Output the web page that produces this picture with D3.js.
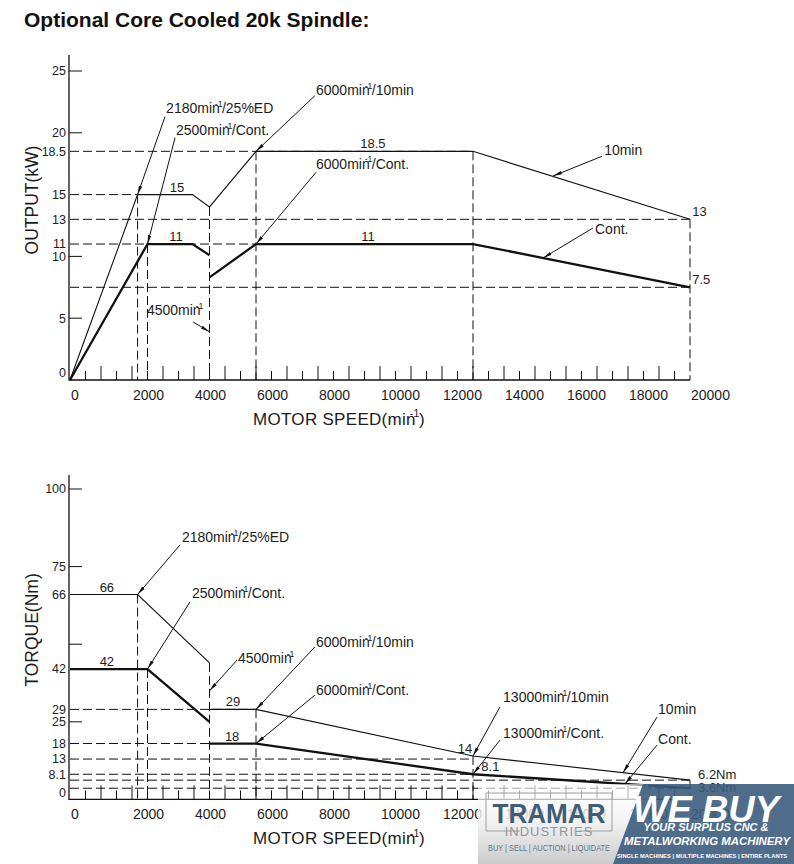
<!DOCTYPE html>
<html><head><meta charset="utf-8">
<script src="https://cdn.jsdelivr.net/npm/d3@7"></script>
<style>
html,body{margin:0;padding:0;background:#fff;}
svg{display:block;}
text{font-family:"Liberation Sans",Arial,sans-serif;fill:#1c1c1c;}
</style></head><body>
<svg id="c" width="794" height="864"></svg>
<script>
// ---------- shared x axis ----------
const xTickLabels = [0, 2000, 4000, 6000, 8000, 10000, 12000, 14000, 16000, 18000, 20000];
const xTickMarks = d3.range(500, 20000, 500);

// ---------- OUTPUT (kW) chart ----------
const pwr10Speed = [0, 2180, 3950, 4500, 6000, 13000, 20000];
const pwr10Value = [0, 15, 15, 14, 18.5, 18.5, 13];
const pwrContSpeed = [0, 2500, 3950, 4500, 4500, 4500, 6000, 13000, 20000];
const pwrContValue = [0, 11, 11, 10.1, null, 8.3, 11, 11, 7.5];

const pwrGuideVSpeed = [2180, 2500, 4500, 6000, 13000, 20000];
const pwrGuideVTop = [15, 11, 14, 18.5, 18.5, 13];
const pwrGuideHValue = [18.5, 15, 13, 11, 7.5];
const pwrGuideHEnd = [13000, 2180, 20000, 6000, 20000];

const pwrTickLabels = [0, 5, 10, 11, 13, 15, 18.5, 20, 25];
const pwrTickMarks = [5, 10, 20, 25];

const pwrValText = ["15", "11", "18.5", "11", "13", "7.5"];
const pwrValSpeed = [3450, 3420, 9770, 9610, 20070, 20070];
const pwrValAt = [15, 11, 18.5, 11, 13, 7.5];

const pwrNoteText = ["2180min-1/25%ED", "2500min-1/Cont.", "6000min-1/10min", "6000min-1/Cont.", "10min", "Cont.", "4500min-1"];
const pwrNoteTipSpeed = [2180, 2500, 6000, 6000, 15580, 15260, 4500];
const pwrNoteTipValue = [15, 11, 18.5, 11, 16.5, 9.87, 3.9];
const pwrNoteEndSpeed = [3065, 3390, 7900, 7935, 17160, 16870, 3970];
const pwrNoteEndValue = [21.3, 19.6, 23.0, 16.8, 18.1, 12.3, 4.7];
const pwrNoteTextSpeed = [3100, 3420, 7935, 7935, 17230, 16935, 2480];
const pwrNoteTextValue = [21.6, 19.8, 23.06, 17.1, 18.2, 11.8, 5.26];

// ---------- TORQUE (Nm) chart ----------
const trq10Speed = [0, 2180, 4500, 4500, 4500, 6000, 13000, 20000];
const trq10Value = [66, 66, 44, null, 29, 29, 14, 6.2];
const trqContSpeed = [0, 2500, 4500, 4500, 4500, 6000, 13000, 20000];
const trqContValue = [42, 42, 25, null, 18, 18, 8.1, 3.6];

const trqGuideVSpeed = [2180, 2500, 4500, 6000, 13000, 20000];
const trqGuideVTop = [66, 42, 44, 29, 14, 6.2];
const trqGuideHValue = [29, 18, 13, 8.1, 6.2, 3.6];
const trqGuideHEnd = [6000, 6000, 13000, 13000, 20000, 20000];

const trqTickLabels = [0, 8.1, 13, 18, 25, 29, 42, 66, 75, 100];
const trqTickMarks = [25, 50, 75, 100];

const trqValText = ["66", "42", "29", "18", "14", "8.1", "6.2Nm", "3.6Nm"];
const trqValSpeed = [1190, 1190, 5260, 5230, 12740, 13560, 20260, 20260];
const trqValAt = [66, 42, 29, 18, 14, 8.1, 5.5, 1.4];

const trqNoteText = ["2180min-1/25%ED", "2500min-1/Cont.", "4500min-1", "6000min-1/10min", "6000min-1/Cont.", "13000min-1/10min", "13000min-1/Cont.", "10min", "Cont."];
const trqNoteTipSpeed = [2180, 2500, 4500, 6000, 6000, 13000, 13000, 17840, 17900];
const trqNoteTipValue = [66, 42, 35, 29, 18, 14, 8.1, 8.6, 4.95];
const trqNoteEndSpeed = [3550, 3870, 5390, 7900, 7900, 13870, 13870, 18935, 18935];
const trqNoteEndValue = [82.0, 63.6, 44.9, 49.1, 33.6, 29.8, 19.1, 26.5, 17.5];
const trqNoteTextSpeed = [3610, 3935, 5420, 7935, 7935, 13970, 13970, 18970, 18970];
const trqNoteTextValue = [82.9, 64.9, 43.9, 49.1, 33.6, 31.4, 19.8, 27.5, 17.9];

// ---------- drawing ----------
const svg = d3.select("#c");
svg.append("rect").attr("width", 794).attr("height", 864).attr("fill", "#fff");

svg.append("defs").append("marker")
  .attr("id", "arr").attr("viewBox", "0 -3 9 6").attr("refX", 9).attr("refY", 0)
  .attr("markerWidth", 9).attr("markerHeight", 6).attr("markerUnits", "userSpaceOnUse")
  .attr("orient", "auto")
  .append("path").attr("d", "M0,-1.7L9,0L0,1.7Z").attr("fill", "#111");

svg.append("text").attr("x", 24).attr("y", 27)
  .attr("font-size", 21).attr("font-weight", "bold").style("fill", "#111")
  .text("Optional Core Cooled 20k Spindle:");

const x = d3.scaleLinear().domain([0, 20000]).range([70, 690]);

function minText(sel, str, size) {
  const parts = str.split("min-1");
  let back = false;
  parts.forEach((p, i) => {
    if (i > 0) {
      sel.append("tspan").attr("font-size", size * 0.62)
        .attr("dx", -size * 0.36).attr("dy", -size * 0.45).text("-1");
      back = true;
    }
    const s = (i < parts.length - 1) ? p + "min" : p;
    const ts = sel.append("tspan").text(s);
    if (back) { ts.attr("dy", size * 0.45).attr("dx", -size * 0.04); back = false; }
  });
}

function chart(cfg) {
  const g = svg.append("g");
  const y = cfg.y;
  const x0 = x(0), yBase = y(0);

  // dashed guides
  const dash = "9,4";
  cfg.gvS.forEach((s, i) => {
    g.append("line").attr("x1", x(s)).attr("x2", x(s)).attr("y1", y(cfg.gvT[i])).attr("y2", yBase)
      .attr("stroke", "#111").attr("stroke-width", 1).attr("stroke-dasharray", dash);
  });
  cfg.ghV.forEach((v, i) => {
    g.append("line").attr("x1", x0).attr("x2", x(cfg.ghE[i])).attr("y1", y(v)).attr("y2", y(v))
      .attr("stroke", "#111").attr("stroke-width", 1).attr("stroke-dasharray", dash);
  });

  // axes
  g.append("line").attr("x1", x0 - 1).attr("x2", x0 - 1).attr("y1", cfg.axisTop).attr("y2", yBase + 0.5)
    .attr("stroke", "#111").attr("stroke-width", 1.3);
  g.append("line").attr("x1", x0 - 1).attr("x2", x(20000)).attr("y1", yBase).attr("y2", yBase)
    .attr("stroke", "#111").attr("stroke-width", 1.3);

  xTickMarks.forEach(s => {
    const tall = s % 1000 === 0;
    g.append("line").attr("x1", x(s)).attr("x2", x(s)).attr("y1", yBase).attr("y2", yBase - (tall ? 14 : 9))
      .attr("stroke", "#111").attr("stroke-width", 1);
  });
  xTickLabels.forEach(s => {
    g.append("text").attr("x", x(s) + 1).attr("y", yBase + 20).attr("font-size", 14).text(s);
  });
  cfg.yMarks.forEach(v => {
    g.append("line").attr("x1", x0 - 1).attr("x2", x0 + 12).attr("y1", y(v)).attr("y2", y(v))
      .attr("stroke", "#111").attr("stroke-width", 1);
  });
  cfg.yLabels.forEach(v => {
    g.append("text").attr("x", x0 - 4).attr("y", y(v) + (v === 0 ? -7 : 0))
      .attr("dy", "0.35em").attr("text-anchor", "end").attr("font-size", 12.5).text(v);
  });

  // axis titles
  const xt = g.append("text").attr("x", 253).attr("y", yBase + 45).attr("font-size", 17)
    .attr("letter-spacing", 0.3);
  minText(xt, "MOTOR SPEED(min-1)", 17);
  g.append("text").attr("transform", `translate(38,${cfg.titleY}) rotate(-90)`)
    .attr("text-anchor", "middle").attr("font-size", 17.5).text(cfg.title);

  // curves
  const line = d3.line().defined(d => d[1] != null).x(d => x(d[0])).y(d => y(d[1]));
  const d10 = cfg.s10.map((s, i) => [s, cfg.v10[i]]);
  const dC = cfg.sC.map((s, i) => [s, cfg.vC[i]]);
  g.append("path").attr("d", line(d10)).attr("fill", "none").attr("stroke", "#111").attr("stroke-width", 1.1);
  g.append("path").attr("d", line(dC)).attr("fill", "none").attr("stroke", "#111").attr("stroke-width", 2.3)
    .attr("stroke-linejoin", "miter");

  // value labels
  cfg.valText.forEach((t, i) => {
    const s = cfg.valS[i];
    g.append("text").attr("x", x(s)).attr("y", y(cfg.valAt[i]) - 3)
      .attr("text-anchor", s > 20000 ? "start" : "middle").attr("font-size", 13).text(t);
  });

  // notes with leaders
  cfg.noteText.forEach((t, i) => {
    g.append("line")
      .attr("x1", x(cfg.nES[i])).attr("y1", y(cfg.nEV[i]))
      .attr("x2", x(cfg.nTS[i])).attr("y2", y(cfg.nTV[i]))
      .attr("stroke", "#111").attr("stroke-width", 1).attr("marker-end", "url(#arr)");
    const tx = g.append("text").attr("x", x(cfg.nXS[i])).attr("y", y(cfg.nXV[i])).attr("font-size", 14);
    minText(tx, t, 14);
  });
}

chart({
  y: d3.scaleLinear().domain([0, 25]).range([380, 71]),
  axisTop: 55, title: "OUTPUT(kW)", titleY: 200,
  s10: pwr10Speed, v10: pwr10Value, sC: pwrContSpeed, vC: pwrContValue,
  gvS: pwrGuideVSpeed, gvT: pwrGuideVTop, ghV: pwrGuideHValue, ghE: pwrGuideHEnd,
  yLabels: pwrTickLabels, yMarks: pwrTickMarks,
  valText: pwrValText, valS: pwrValSpeed, valAt: pwrValAt,
  noteText: pwrNoteText, nTS: pwrNoteTipSpeed, nTV: pwrNoteTipValue,
  nES: pwrNoteEndSpeed, nEV: pwrNoteEndValue, nXS: pwrNoteTextSpeed, nXV: pwrNoteTextValue
});

chart({
  y: d3.scaleLinear().domain([0, 100]).range([799.4, 489]),
  axisTop: 475, title: "TORQUE(Nm)", titleY: 630,
  s10: trq10Speed, v10: trq10Value, sC: trqContSpeed, vC: trqContValue,
  gvS: trqGuideVSpeed, gvT: trqGuideVTop, ghV: trqGuideHValue, ghE: trqGuideHEnd,
  yLabels: trqTickLabels, yMarks: trqTickMarks,
  valText: trqValText, valS: trqValSpeed, valAt: trqValAt,
  noteText: trqNoteText, nTS: trqNoteTipSpeed, nTV: trqNoteTipValue,
  nES: trqNoteEndSpeed, nEV: trqNoteEndValue, nXS: trqNoteTextSpeed, nXV: trqNoteTextValue
});

// ---------- watermark banner ----------
const wm = svg.append("g");
const defs = svg.select("defs");
const gr = defs.append("linearGradient").attr("id", "wmg").attr("x1", 0).attr("y1", 0).attr("x2", 0).attr("y2", 1);
gr.append("stop").attr("offset", "0%").attr("stop-color", "#ffffff").attr("stop-opacity", 0.6);
gr.append("stop").attr("offset", "45%").attr("stop-color", "#f2f2f2").attr("stop-opacity", 0.88);
gr.append("stop").attr("offset", "100%").attr("stop-color", "#c9c9c9").attr("stop-opacity", 0.97);
wm.append("rect").attr("x", 478).attr("y", 784).attr("width", 170).attr("height", 80).attr("fill", "url(#wmg)");
wm.append("path").attr("d", "M643,784L794,784L794,864L613,864Z").attr("fill", "#3c5d7d").attr("fill-opacity", 0.9);
wm.append("path").attr("d", "M520,831L486,831L486,793L612,793L612,831L579,831")
  .attr("fill", "none").attr("stroke", "#9aa0a6").attr("stroke-width", 1);
wm.append("text").attr("x", 549).attr("y", 823).attr("text-anchor", "middle").attr("font-size", 27)
  .attr("font-weight", "bold").style("fill", "#3e5d78").attr("textLength", 113).attr("lengthAdjust", "spacingAndGlyphs").text("TRAMAR");
wm.append("text").attr("x", 549).attr("y", 836).attr("text-anchor", "middle").attr("font-size", 13)
  .style("fill", "#8e979f").attr("letter-spacing", 1).text("INDUSTRIES");
wm.append("text").attr("x", 549).attr("y", 851).attr("text-anchor", "middle").attr("font-size", 8.5)
  .style("fill", "#5b7892").attr("textLength", 122).attr("lengthAdjust", "spacingAndGlyphs").text("BUY | SELL | AUCTION | LIQUIDATE");
wm.append("text").attr("x", 706).attr("y", 822).attr("text-anchor", "middle").attr("font-size", 37)
  .attr("font-weight", "bold").attr("font-style", "italic").style("fill", "#ffffff")
  .attr("textLength", 146).attr("lengthAdjust", "spacingAndGlyphs").text("WE BUY");
wm.append("text").attr("x", 706).attr("y", 831).attr("text-anchor", "middle").attr("font-size", 10.5)
  .attr("font-weight", "bold").attr("font-style", "italic").style("fill", "#ffffff")
  .attr("textLength", 125).attr("lengthAdjust", "spacingAndGlyphs").text("YOUR SURPLUS CNC &");
wm.append("text").attr("x", 707).attr("y", 845).attr("text-anchor", "middle").attr("font-size", 11.5)
  .attr("font-weight", "bold").attr("font-style", "italic").style("fill", "#ffffff")
  .attr("textLength", 166).attr("lengthAdjust", "spacingAndGlyphs").text("METALWORKING MACHINERY");
wm.append("text").attr("x", 702).attr("y", 858).attr("text-anchor", "middle").attr("font-size", 5.4)
  .attr("font-weight", "bold").style("fill", "#ffffff")
  .attr("textLength", 170).attr("lengthAdjust", "spacingAndGlyphs").text("SINGLE MACHINES | MULTIPLE MACHINES | ENTIRE PLANTS");
</script>
</body></html>
